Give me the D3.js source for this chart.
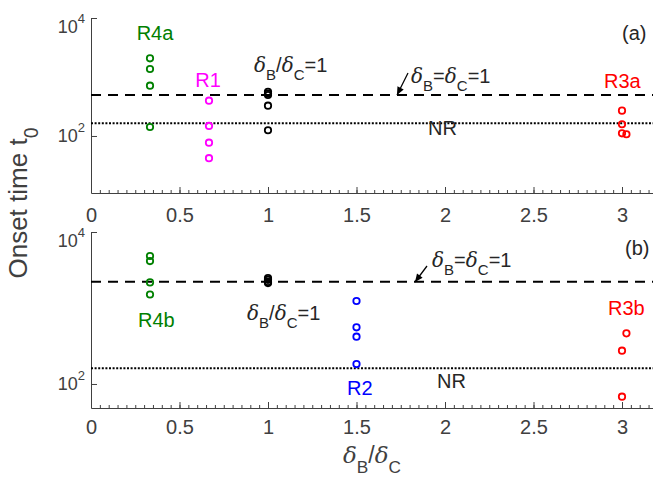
<!DOCTYPE html>
<html>
<head>
<meta charset="utf-8">
<script src="https://cdn.jsdelivr.net/npm/d3@7"></script>
<style>
  body { margin: 0; background: #fff; }
  svg { display: block; font-family: "Liberation Sans", Arial, sans-serif; }
</style>
</head>
<body>
<div id="chart"></div>
<script>
// ---- data ----
const xTicks = [0, 0.5, 1, 1.5, 2, 2.5, 3];
const yTicks = [100, 10000];

// panel (a)
const r4aX = [1/3, 1/3, 1/3, 1/3];
const r4aT = [2075, 1367, 712, 142];
const r1X = [2/3, 2/3, 2/3, 2/3];
const r1T = [396, 148, 77, 42];
const eqaX = [1, 1, 1, 1, 1];
const eqaT = [560, 525, 495, 326, 125];
const r3aX = [3, 3, 3, 3.025];
const r3aT = [269, 158, 111, 107];

// panel (b)
const r4bX = [1/3, 1/3, 1/3, 1/3];
const r4bT = [4830, 4150, 2170, 1505];
const eqbX = [1, 1, 1, 1];
const eqbT = [2480, 2350, 2200, 2130];
const r2X = [1.5, 1.5, 1.5, 1.5];
const r2T = [1236, 557, 419, 183];
const r3bX = [3.025, 3, 3];
const r3bT = [464, 274, 68];

// reference lines: dashed = delta_B = delta_C = 1, dotted = NR
const dashT = [495, 2220];
const dotT = [164, 161];

const svgWidth = 653;
const svgHeight = 479;

const svg = d3.select("#chart").append("svg")
  .attr("width", svgWidth)
  .attr("height", svgHeight);

const x = d3.scaleLinear().domain([0, 3.2]).range([91, 657.4]);

const axisColor = "#404040";

// tex-like text: "δ" drawn italic serif, "_X" subscript, "^X" superscript
function texText(g, str, size, color) {
  const t = g.append("text").attr("font-size", size).attr("fill", color);
  let shift = 0;
  for (let i = 0; i < str.length; i++) {
    const ch = str[i];
    if (ch === "_" || ch === "^") {
      const s = ch === "_" ? size * 0.42 : -size * 0.45;
      t.append("tspan").attr("dy", s - shift).attr("font-size", size * 0.75).text(str[i + 1]);
      shift = s;
      i++;
    } else {
      const sp = t.append("tspan").attr("dy", -shift).text(ch);
      shift = 0;
      if (ch === "δ") sp.attr("font-family", "DejaVu Serif").attr("font-style", "italic");
    }
  }
  return t;
}

function label(str, px, py, color, size, anchor) {
  return texText(svg, str, size || 20, color || "#262626")
    .attr("x", px).attr("y", py)
    .attr("text-anchor", anchor || "start");
}

function arrow(x1, y1, x2, y2) {
  svg.append("line")
    .attr("x1", x1).attr("y1", y1).attr("x2", x2).attr("y2", y2)
    .attr("stroke", "#000").attr("stroke-width", 1.3);
  const a = Math.atan2(y2 - y1, x2 - x1);
  const L = 8, W = 3.5;
  const bx = x2 - L * Math.cos(a), by = y2 - L * Math.sin(a);
  const pts = [
    [x2, y2],
    [bx + W * Math.sin(a), by - W * Math.cos(a)],
    [bx - W * Math.sin(a), by + W * Math.cos(a)]
  ];
  svg.append("path").attr("d", "M" + pts.join("L") + "Z").attr("fill", "#000");
}

function drawPanel(top, bottom, domain, series, dashV, dotV, labelPad) {
  const y = d3.scaleLog().domain(domain).range([bottom, top]);
  const g = svg.append("g");

  // x minor ticks
  g.append("g")
    .attr("transform", `translate(0,${bottom})`)
    .call(d3.axisBottom(x).tickValues(d3.range(0, 3.21, 0.05)).tickSizeInner(-3).tickSizeOuter(0).tickFormat(""))
    .call(a => a.select(".domain").remove())
    .call(a => a.selectAll("line").attr("stroke", axisColor));

  // x major ticks
  g.append("g")
    .attr("transform", `translate(0,${bottom})`)
    .call(d3.axisBottom(x).tickValues(xTicks).tickSizeInner(-6).tickSizeOuter(0).tickPadding(labelPad).tickFormat(d3.format("")))
    .call(a => a.select(".domain").attr("stroke", axisColor))
    .call(a => a.selectAll("line").attr("stroke", axisColor))
    .call(a => a.selectAll("text").attr("font-size", 20).attr("fill", axisColor).attr("font-family", "Liberation Sans, Arial, sans-serif"));

  // y axis
  g.append("g")
    .attr("transform", `translate(${x(0)},0)`)
    .call(d3.axisLeft(y).tickValues(yTicks).tickSizeInner(-6).tickSizeOuter(0).tickFormat(""))
    .call(a => a.select(".domain").attr("stroke", axisColor))
    .call(a => a.selectAll("line").attr("stroke", axisColor));

  yTicks.forEach(v => {
    const yc = Math.max(y(v), top + 8);
    const t = g.append("text")
      .attr("x", x(0) - 6).attr("y", yc + 6.5)
      .attr("text-anchor", "end").attr("font-size", 18).attr("fill", axisColor);
    t.append("tspan").text("10");
    t.append("tspan").attr("dy", -10).attr("font-size", 13).text(Math.round(Math.log10(v)));
  });

  // reference lines
  g.append("line")
    .attr("x1", x(0)).attr("x2", x(3.2)).attr("y1", y(dashV)).attr("y2", y(dashV))
    .attr("stroke", "#000").attr("stroke-width", 2).attr("stroke-dasharray", "10,7");
  g.append("line")
    .attr("x1", x(0)).attr("x2", x(3.2)).attr("y1", y(dotV)).attr("y2", y(dotV))
    .attr("stroke", "#000").attr("stroke-width", 2).attr("stroke-dasharray", "2,1.6");

  // points
  series.forEach(s => {
    g.selectAll(null)
      .data(d3.zip(s.xs, s.ts))
      .enter()
      .append("circle")
      .attr("cx", d => x(d[0]))
      .attr("cy", d => y(d[1]))
      .attr("r", 3.2)
      .attr("fill", "none")
      .attr("stroke", s.color)
      .attr("stroke-width", 1.8);
  });
}

const green = "#008000", magenta = "#ff00ff", red = "#ff0000", blue = "#0000ff";

drawPanel(18, 193, [10.8, 1e4], [
  {xs: r4aX, ts: r4aT, color: green},
  {xs: r1X, ts: r1T, color: magenta},
  {xs: eqaX, ts: eqaT, color: "#000"},
  {xs: r3aX, ts: r3aT, color: red}
], dashT[0], dotT[0], 15);

drawPanel(232, 408, [48.3, 1e4], [
  {xs: r4bX, ts: r4bT, color: green},
  {xs: eqbX, ts: eqbT, color: "#000"},
  {xs: r2X, ts: r2T, color: blue},
  {xs: r3bX, ts: r3bT, color: red}
], dashT[1], dotT[1], 12);

// annotations panel (a)
label("R4a", 155, 40, green, 20, "middle");
label("R1", 208, 87, magenta, 20, "middle");
label("δ_B/δ_C=1", 254, 72);
label("(a)", 622, 40);
label("δ_B=δ_C=1", 411, 83);
arrow(408, 73, 397, 95);
label("R3a", 604, 88, red);
label("NR", 428, 135);

// annotations panel (b)
label("R4b", 138, 327, green);
label("δ_B/δ_C=1", 247, 320);
label("R2", 347, 395, blue);
label("NR", 437, 388);
label("(b)", 625, 255);
label("δ_B=δ_C=1", 432, 267);
arrow(427, 266, 415, 282);
label("R3b", 608, 315, red);

// axis titles
label("δ_B/δ_C", 372, 463, "#404040", 23, "middle");
label("Onset time t_0", 0, 0, "#404040", 26, "middle")
  .attr("transform", "translate(27,203) rotate(-90)");
</script>
</body>
</html>
